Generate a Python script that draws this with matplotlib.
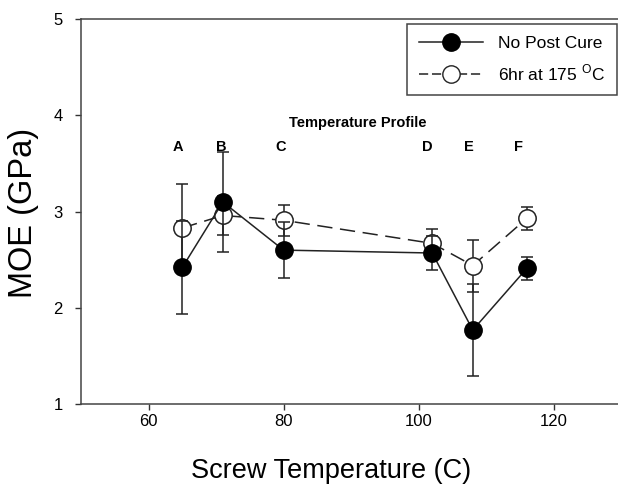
import matplotlib
matplotlib.use("Agg")
import matplotlib.pyplot as plt
from matplotlib.lines import Line2D

plt.rcParams['font.family'] = ['Liberation Sans', 'DejaVu Sans']
plt.rcParams['mathtext.fontset'] = 'custom'
plt.rcParams['mathtext.rm'] = 'Liberation Sans'

temps = [65, 71, 80, 102, 108, 116]
no_post = [2.42, 3.10, 2.60, 2.57, 1.77, 2.41]
no_post_err = [0.48, 0.52, 0.29, 0.18, 0.48, 0.12]
post_cure = [2.83, 2.96, 2.91, 2.67, 2.44, 2.93]
post_cure_err = [0.46, 0.20, 0.16, 0.15, 0.27, 0.12]
profile_labels = ['A', 'B', 'C', 'D', 'E', 'F']
profile_x = [64.4, 70.7, 79.6, 101.2, 107.4, 114.8]

fig = plt.figure(figsize=(6.18, 4.87), dpi=100)
ax = fig.add_axes([0.131, 0.170, 0.869, 0.791])

lw = 1.1
ax.errorbar(temps, post_cure, yerr=post_cure_err, color='#222222', lw=lw,
            ls=(0, (10, 5)), marker='o', ms=12.5, mfc='white', mec='#222222',
            mew=1.1, capsize=4.3, elinewidth=1.1, capthick=1.1, zorder=2)
ax.errorbar(temps, no_post, yerr=no_post_err, color='#222222', lw=lw,
            ls='-', marker='o', ms=12.5, mfc='black', mec='black',
            capsize=4.3, elinewidth=1.1, capthick=1.1, zorder=3)

for lab, xx in zip(profile_labels, profile_x):
    ax.text(xx, 3.67, lab, ha='center', va='center', fontsize=10.5, fontweight='bold')
ax.text(91.0, 3.92, 'Temperature Profile', ha='center', va='center', fontsize=10.5,
        fontweight='bold')

ax.set_xlim(50, 129.5)
ax.set_ylim(1, 5)
ax.set_xticks([60, 80, 100, 120])
ax.set_yticks([1, 2, 3, 4, 5])
ax.tick_params(direction='out', length=4, width=1, labelsize=12, colors='#333333',
               labelcolor='black')
ax.tick_params(axis='y', pad=9)
ax.tick_params(axis='x', pad=3)
for s in ax.spines.values():
    s.set_color('#444444')
    s.set_linewidth(1.1)
ax.spines['right'].set_visible(False)

ax.set_xlabel('Screw Temperature (C)', fontsize=19.5)
ax.set_ylabel('MOE (GPa)', fontsize=23.5)
ax.xaxis.set_label_coords(0.466, -0.14)
ax.yaxis.set_label_coords(-0.078, 0.497)

handles = [
    Line2D([], [], color='#222222', lw=lw, marker='o', ms=12.5, mfc='black', mec='black'),
    Line2D([], [], color='#222222', lw=lw, ls=(0, (6, 2.5)), marker='o', ms=12.5,
           mfc='white', mec='#222222'),
]
leg = ax.legend(handles, ['No Post Cure', r'6hr at 175 $^{\mathrm{O}}$C'],
                loc='upper left', bbox_to_anchor=(0.607, 0.987), borderaxespad=0,
                fancybox=False, edgecolor='#444444', fontsize=12.5, handlelength=3.7,
                framealpha=1, borderpad=0.7, labelspacing=0.65, handletextpad=0.85)
leg.get_frame().set_linewidth(1.1)

fig.savefig('out.png', dpi=100)
